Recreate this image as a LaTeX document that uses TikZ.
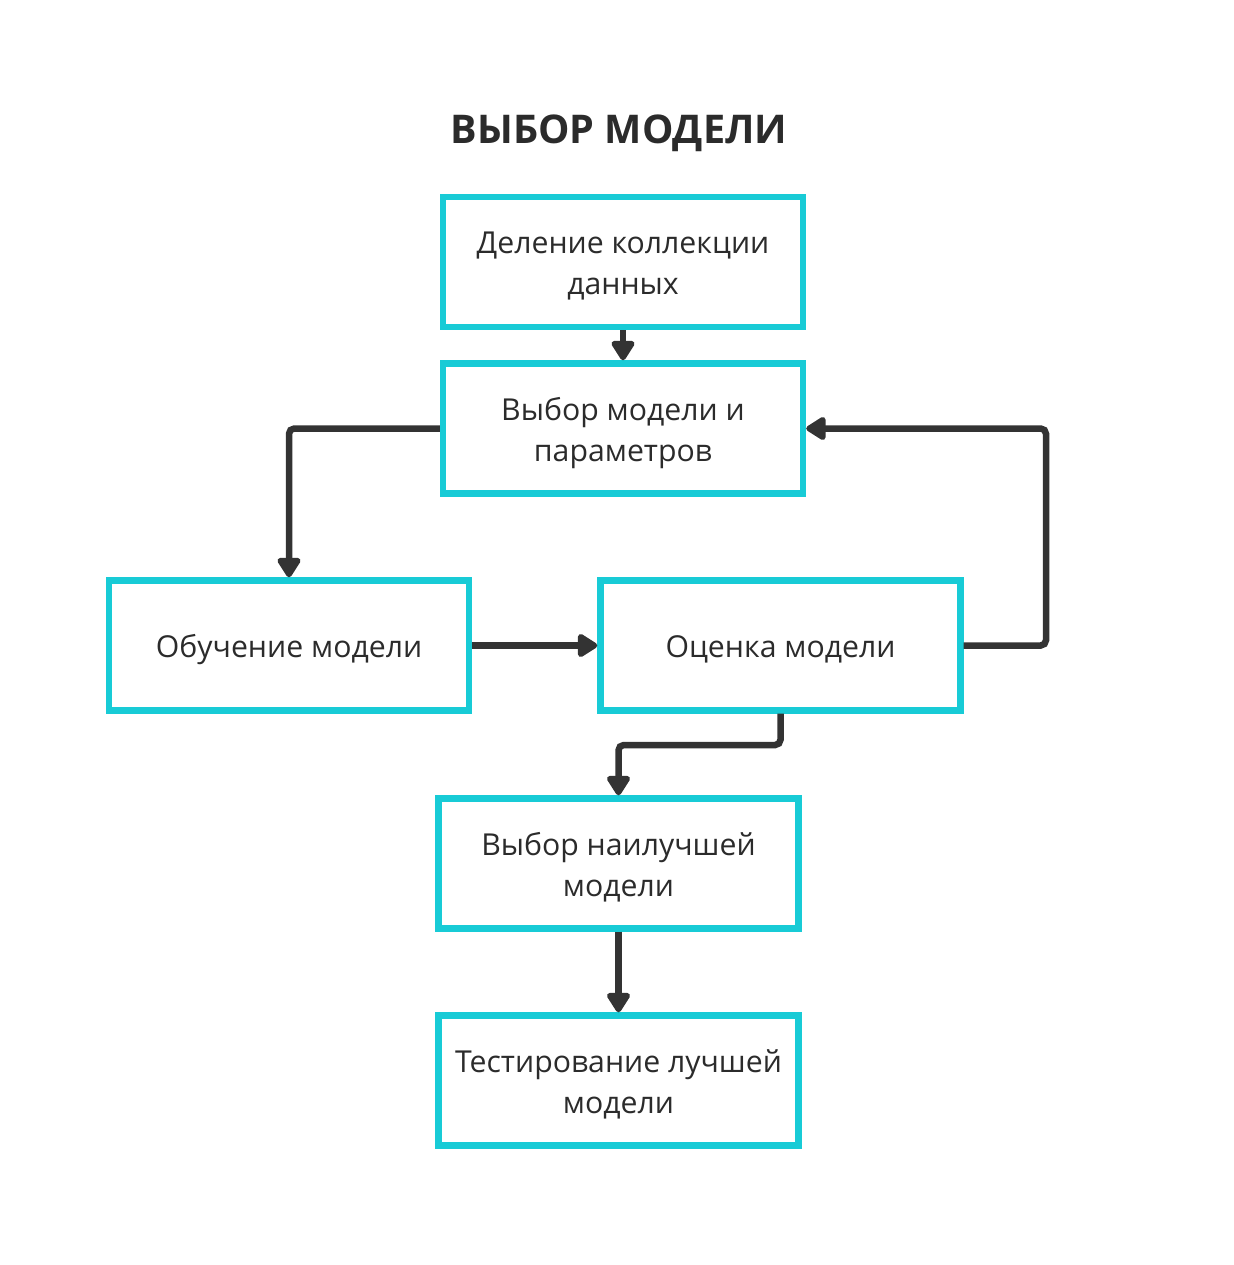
\documentclass[tikz,border=0pt]{standalone}
\usepackage{fontspec}
\setmainfont{Open Sans}
\usetikzlibrary{arrows.meta}
\definecolor{boxcyan}{HTML}{18CBD6}
\definecolor{arrowgray}{HTML}{333333}
\definecolor{textgray}{HTML}{2B2B2B}
\newcommand{\boxtext}[1]{\raisebox{-0.08cm}[\height][\depth]{\begin{tabular}{c}#1\end{tabular}}}

\begin{document}
\begin{tikzpicture}[x=0.02cm,y=-0.02cm,>={Triangle[length=0.44cm,width=0.52cm,round]},
  every node/.style={font=\fontsize{17.2}{23.5}\selectfont,text=textgray},
  stage/.style={draw=boxcyan,line width=0.13cm,minimum width=7.2cm,minimum height=2.6cm,inner sep=0pt},
  link/.style={->,draw=arrowgray,line width=0.13cm,rounded corners=3pt}]
  \useasboundingbox (0,0) rectangle (1234,1265);
  \node (title) at (619,133) {\fontsize{22.5}{27}\selectfont\bfseries ВЫБОР МОДЕЛИ};
  \node[stage] (1) at (623,262) {\boxtext{Деление коллекции\\данных}};
  \node[stage] (2) at (623,428.5) {\boxtext{Выбор модели и\\параметров}};
  \node[stage] (3) at (289,645.5) {\boxtext{Обучение модели}};
  \node[stage] (4) at (780.5,645.5) {\boxtext{Оценка модели}};
  \node[stage] (5) at (618.5,863.5) {\boxtext{Выбор наилучшей\\модели}};
  \node[stage] (6) at (618.5,1080.5) {\boxtext{Тестирование лучшей\\модели}};
  \coordinate (back) at (1046,428.5);
  \coordinate (split) at (618.5,745);
  \draw[link] (1) -- (2);
  \draw[link] (2.west) -| (3.north);
  \draw[link] (3) -- (4);
  \draw[link] (4.east) -| (back) -- (2.east);
  \draw[link] (4.south) |- (split) -- (5.north);
  \draw[link] (5) -- (6);
\end{tikzpicture}
\end{document}
